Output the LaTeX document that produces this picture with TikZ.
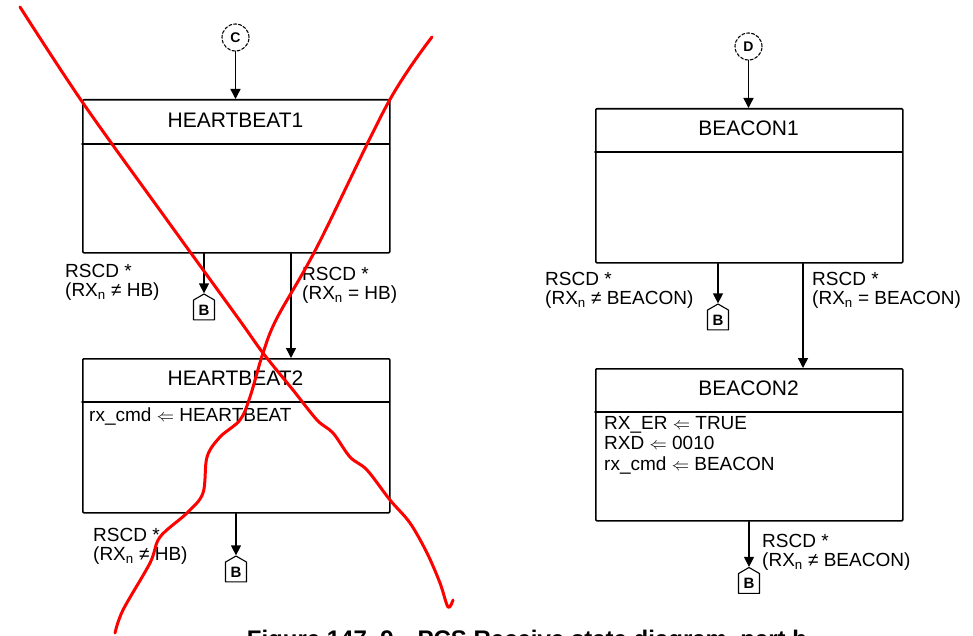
\documentclass[tikz,border=0pt]{standalone}
\usepackage{fontspec}
\setmainfont{Liberation Sans}
\usetikzlibrary{arrows.meta,shapes.symbols}

\begin{document}
\begin{tikzpicture}[yscale=-1, x=1pt, y=1pt, line join=round, line cap=round,
  statebox/.style={draw=ink, line width=1.6pt, rounded corners=1pt, anchor=north west, inner sep=0pt, minimum width=307, minimum height=#1},
  divline/.style={draw=ink, line width=1.6pt},
  stitle/.style={font=\fontsize{21}{24}\selectfont, inner sep=0pt},
  sbody/.style={font=\fontsize{19}{20.5}\selectfont, align=left, anchor=north west, inner sep=0pt},
  cond/.style={font=\fontsize{19}{19.5}\selectfont, align=left, anchor=north west, inner sep=0pt},
  offpage/.style={circle, draw=ink, densely dashed, line width=1.1pt, minimum size=27, inner sep=0pt, font=\bfseries\fontsize{14}{14}\selectfont},
  exitB/.style={signal, signal to=north, signal pointer angle=120, draw=ink, line width=1.1pt, minimum width=21, minimum height=23, inner sep=0pt, font=\bfseries\fontsize{15}{15}\selectfont},
  flow/.style={draw=ink, line width=1.4pt, -{Triangle[width=10pt,length=10pt]}},
  redmark/.style={draw=markred, line width=3pt}]
% Colour definitions
\definecolor{ink}{rgb}{0,0,0}
\definecolor{markred}{rgb}{1,0,0}
% End of colour definitions
\path[use as bounding box, fill=white] (0,0) rectangle (973,636);

% left column
\node[offpage] (ptC) at (235.5,37.5) {C};
\node[statebox=153] (hbA) at (82,99) {};
\node[stitle] (hbAname) at (235.5,120) {HEARTBEAT1};
\draw[divline] (82,144) -- (389,144);
\node[exitB] (exA) at (204,310) {B};
\coordinate (hbBin) at (291,358);
\node[cond] (cndA) at (65,264) {RSCD *\\(RX\textsubscript{n} ≠ HB)};
\node[cond] (cndB) at (302,267) {RSCD *\\(RX\textsubscript{n} = HB)};
\node[statebox=154] (hbB) at (82,358) {};
\node[stitle] (hbBname) at (235.5,378) {HEARTBEAT2};
\draw[divline] (82,402) -- (389,402);
\node[sbody] (hbBact) at (89,408) {rx\_cmd $\Leftarrow$ HEARTBEAT};
\node[exitB] (exB) at (236,572) {B};
\node[cond] (cndC) at (93,528) {RSCD *\\(RX\textsubscript{n} ≠ HB)};

% right column
\node[offpage] (ptD) at (748.5,46.5) {D};
\node[statebox=154] (bcA) at (595,108) {};
\node[stitle] (bcAname) at (748.5,128) {BEACON1};
\draw[divline] (595,152) -- (902,152);
\node[exitB] (exC) at (718,320) {B};
\coordinate (bcBin) at (803,368);
\node[cond] (cndD) at (545,272) {RSCD *\\(RX\textsubscript{n} ≠ BEACON)};
\node[cond] (cndE) at (812,272) {RSCD *\\(RX\textsubscript{n} = BEACON)};
\node[statebox=152] (bcB) at (595,368) {};
\node[stitle] (bcBname) at (748.5,388) {BEACON2};
\draw[divline] (595,412) -- (902,412);
\node[sbody] (bcBact) at (604,416) {RX\_ER $\Leftarrow$ TRUE\\RXD $\Leftarrow$ 0010\\rx\_cmd $\Leftarrow$ BEACON};
\node[exitB] (exD) at (749,583.5) {B};
\node[cond] (cndF) at (762,534) {RSCD *\\(RX\textsubscript{n} ≠ BEACON)};

% transitions
\draw[flow] (ptC) -- (ptC |- hbA.north);
\draw[flow] (hbA.south -| exA) -- (exA.north);
\draw[flow] (hbA.south -| hbBin) -- (hbBin);
\draw[flow] (hbB.south -| exB) -- (exB.north);
\draw[flow] (ptD) -- (ptD |- bcA.north);
\draw[flow] (bcA.south -| exC) -- (exC.north);
\draw[flow] (bcA.south -| bcBin) -- (bcBin);
\draw[flow] (bcB.south -| exD) -- (exD.north);

\node[font=\bfseries\fontsize{24}{26}\selectfont, inner sep=0pt, anchor=north] (figcap) at (527,629.5) {Figure 147–9—PCS Receive state diagram, part b};

% hand-drawn cross
\draw[redmark] plot[smooth, tension=0.55] coordinates {(20,7) (83,103) (167,220) (238,318) (263,353) (293,390) (317,420) (333,433) (350,457) (367,470) (390,500) (410,523) (427,553) (440,583) (448,607) (453,600)};
\draw[redmark] plot[smooth, tension=0.55] coordinates {(432,37) (388,103) (317,247) (277,318) (263,353) (250,397) (240,420) (220,437) (207,457) (203,493) (187,513) (160,537) (150,563) (123,610) (115,633)};
\end{tikzpicture}
\end{document}
